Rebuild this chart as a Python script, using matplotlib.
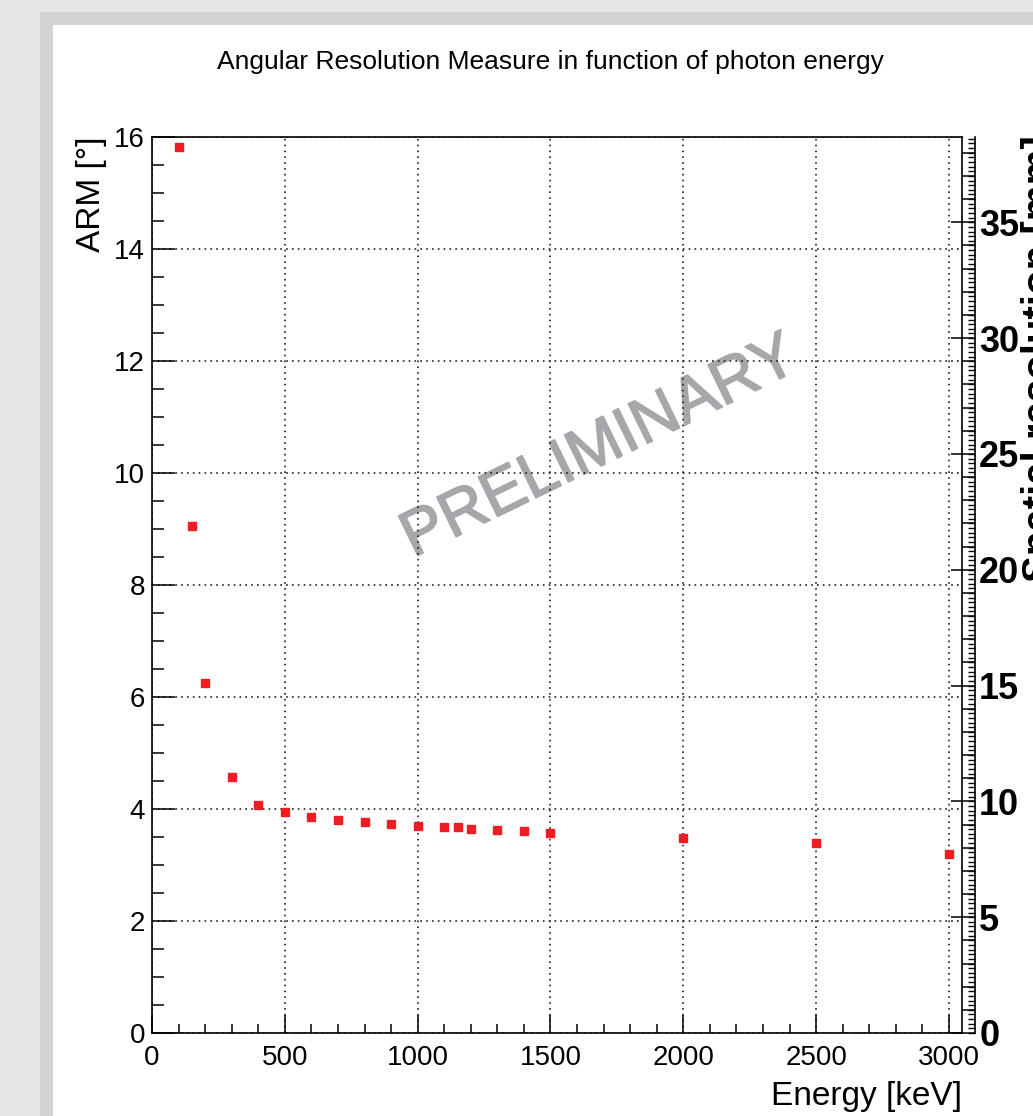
import matplotlib
matplotlib.use("Agg")
import matplotlib.pyplot as plt
import matplotlib.patheffects as pe
from matplotlib.patches import Rectangle
from matplotlib.ticker import MultipleLocator

plt.rcParams['font.family'] = ['Liberation Sans', 'DejaVu Sans']

# photon energy [keV] and angular resolution measure [deg]
energy = [100, 150, 200, 300, 400, 500, 600, 700, 800, 900, 1000,
          1100, 1150, 1200, 1300, 1400, 1500, 2000, 2500, 3000]
arm = [15.82, 9.05, 6.25, 4.57, 4.07, 3.94, 3.86, 3.80, 3.77, 3.73, 3.70,
       3.68, 3.67, 3.65, 3.63, 3.61, 3.58, 3.49, 3.40, 3.20]

x_range = (0, 3049)
arm_range = (0, 16)
spatial_range = (0, 38.68)

W, H = 1033, 1116
fig = plt.figure(figsize=(W / 100, H / 100), dpi=100, facecolor='#e6e6e4')

# canvas frame like a ROOT window
fig.patches.append(Rectangle((40 / W, 0), 1, 1 - 12 / H, transform=fig.transFigure,
                             facecolor='#d2d2d0', edgecolor='none', zorder=-2))
fig.patches.append(Rectangle((53 / W, 0), 1, 1 - 25 / H, transform=fig.transFigure,
                             facecolor='white', edgecolor='none', zorder=-1))

left, right, top, bottom = 152 / W, 962 / W, 1 - 137 / H, 1 - 1033 / H
ax = fig.add_axes([left, bottom, right - left, top - bottom])
ax.set_facecolor('none')

ax.plot(energy, arm, ls='none', marker='s', ms=5.2, color='#ee1d24', mec='#ee1d24', zorder=5)

ax.set_xlim(*x_range)
ax.set_ylim(*arm_range)
ax.xaxis.set_major_locator(MultipleLocator(500))
ax.xaxis.set_minor_locator(MultipleLocator(100))
ax.yaxis.set_major_locator(MultipleLocator(2))
ax.yaxis.set_minor_locator(MultipleLocator(0.5))
ax.grid(True, which='major', color='#222222', ls=(0, (1, 2.5)), lw=1.2)

for s in ax.spines.values():
    s.set_linewidth(1.2)
ax.tick_params(axis='both', which='both', direction='in', width=1.1, labelsize=20)
ax.tick_params(axis='x', which='major', length=13, pad=8.5)
ax.tick_params(axis='x', which='minor', length=6.5)
ax.tick_params(axis='y', which='major', length=16.5, pad=5)
ax.tick_params(axis='y', which='minor', length=8.6)

ax.set_xlabel('Energy [keV]', fontsize=24, loc='right')
ax.xaxis.set_label_coords(1.0, -0.054)
ax.set_ylabel('ARM [°]', fontsize=24, loc='top')
ax.yaxis.set_label_coords(-0.056, 1.0)

# secondary axis (spatial resolution) drawn just right of the frame
ax2_right = 975 / W
ax2 = fig.add_axes([left, bottom, ax2_right - left, top - bottom])
ax2.patch.set_visible(False)
for name in ['left', 'top', 'bottom']:
    ax2.spines[name].set_visible(False)
ax2.spines['right'].set_linewidth(1.2)
ax2.set_xticks([])
ax2.yaxis.tick_right()
ax2.set_ylim(*spatial_range)
ax2.yaxis.set_major_locator(MultipleLocator(5))
ax2.yaxis.set_minor_locator(MultipleLocator(1))
ax2.tick_params(axis='y', which='both', direction='in', width=1.1, labelsize=26)
ax2.tick_params(axis='y', which='major', length=17.3, pad=3)
ax2.tick_params(axis='y', which='minor', length=9.4)
for lab in ax2.get_yticklabels():
    lab.set_fontweight('bold')

ax3 = fig.add_axes([left, bottom, ax2_right - left, top - bottom])
ax3.patch.set_visible(False)
for s in ax3.spines.values():
    s.set_visible(False)
ax3.set_xticks([])
ax3.yaxis.tick_right()
ax3.set_ylim(*spatial_range)
ax3.yaxis.set_major_locator(MultipleLocator(0.2))
ax3.tick_params(axis='y', which='major', direction='in', length=5, width=1.0, labelright=False)

fig.text(1021 / W, 1 - 135 / H, 'Spatial resolution [mm]', rotation=90, fontsize=29,
         fontweight='bold', ha='left', va='top')

fig.text(550 / W, 1 - 62 / H, 'Angular Resolution Measure in function of photon energy',
         fontsize=19, ha='center', va='center')

ax.text(1685, 10.45, 'PRELIMINARY', fontsize=46, color='#a5a7aa', rotation=26,
        ha='center', va='center', zorder=1,
        path_effects=[pe.withStroke(linewidth=1.2, foreground='#a5a7aa')])

fig.savefig('out.png', dpi=100, facecolor=fig.get_facecolor())
